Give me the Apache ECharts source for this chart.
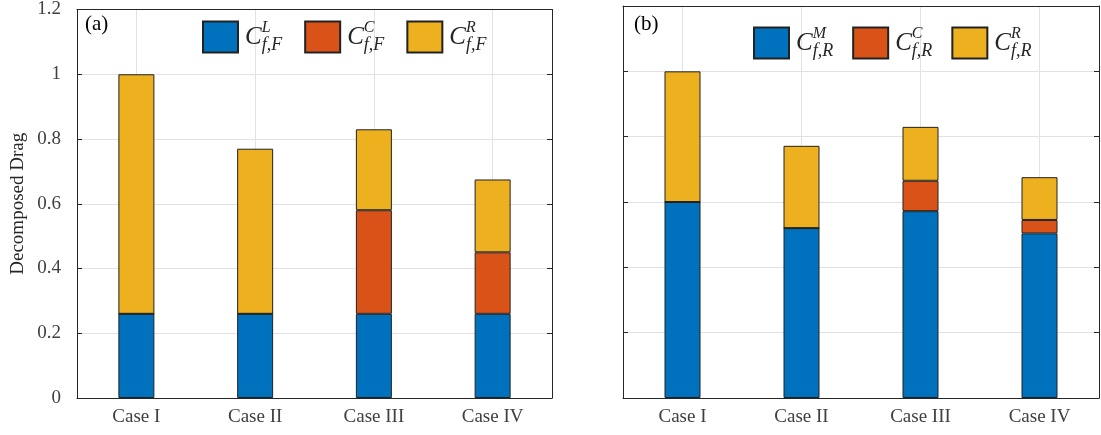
<!DOCTYPE html>
<html>
<head>
<meta charset="utf-8">
<script src="https://cdn.jsdelivr.net/npm/echarts@6/dist/echarts.min.js"></script>
<style>
  html, body { margin: 0; padding: 0; background: #fff; }
  #chart { width: 1101px; height: 435px; }
</style>
</head>
<body>
<div id="chart"></div>
<script>
// categories and tick values
var cases = ['Case I', 'Case II', 'Case III', 'Case IV'];
var yMin = 0, yMax = 1.2, yStep = 0.2;

// panel (a): segment heights, bottom to top
var frontL = [0.26, 0.26, 0.26, 0.26];
var frontC = [0, 0, 0.32, 0.19];
var frontR = [0.74, 0.51, 0.25, 0.225];

// panel (b): segment heights, bottom to top
var rearM = [0.60, 0.52, 0.572, 0.504];
var rearC = [0, 0, 0.093, 0.041];
var rearR = [0.40, 0.252, 0.165, 0.131];

var blue = '#0072BD', red = '#D95319', yellow = '#EDB120';
var font = '"Liberation Serif", "DejaVu Serif", serif';
var ink = '#262626';

var legendLabels = {
  aL: '{c|C}{sup|L}{sub|f,F}',
  aC: '{c|C}{sup|C}{sub|f,F}',
  aR: '{c|C}{sup|R}{sub|f,F}',
  bM: '{c|C}{sup|M}{sub|f,R}',
  bC: '{c|C}{sup|C}{sub|f,R}',
  bR: '{c|C}{sup|R}{sub|f,R}'
};

var legendRich = {
  c: { fontFamily: font, fontStyle: 'italic', fontSize: 25, color: ink, lineHeight: 34 },
  sup: { fontFamily: font, fontStyle: 'italic', fontSize: 16, color: ink, lineHeight: 16, verticalAlign: 'top', width: 0 },
  sub: { fontFamily: font, fontStyle: 'italic', fontSize: 18, color: ink, lineHeight: 17, verticalAlign: 'bottom' }
};

function xAxes(gridIndex) {
  return [{
    type: 'category', gridIndex: gridIndex, data: cases, position: 'bottom',
    axisLine: { lineStyle: { color: ink, width: 1 } },
    axisTick: { inside: true, alignWithLabel: true, length: 5, lineStyle: { color: ink } },
    axisLabel: { fontFamily: font, fontSize: 19, color: '#404040', margin: 10 },
    splitLine: { show: true, alignWithLabel: true, lineStyle: { color: '#e2e2e2', width: 1 } }
  }, {
    type: 'category', gridIndex: gridIndex, data: cases, position: 'top',
    axisLine: { onZero: false, lineStyle: { color: ink, width: 1 } },
    axisTick: { inside: true, alignWithLabel: true, length: 5, lineStyle: { color: ink } },
    axisLabel: { show: false },
    splitLine: { show: false }
  }];
}

function yAxes(gridIndex, withLabels) {
  return [{
    type: 'value', gridIndex: gridIndex, min: yMin, max: yMax, interval: yStep, position: 'left',
    name: withLabels ? 'Decomposed Drag' : '',
    nameLocation: 'middle', nameRotate: 90, nameGap: 49,
    nameTextStyle: { fontFamily: font, fontSize: 19, color: ink },
    axisLine: { show: true, onZero: false, lineStyle: { color: ink, width: 1 } },
    axisTick: { show: true, inside: true, length: 5, lineStyle: { color: ink } },
    axisLabel: { show: withLabels, fontFamily: font, fontSize: 19, color: '#404040', margin: 16 },
    splitLine: { show: true, lineStyle: { color: '#e2e2e2', width: 1 } }
  }, {
    type: 'value', gridIndex: gridIndex, min: yMin, max: yMax, interval: yStep, position: 'right',
    axisLine: { show: true, onZero: false, lineStyle: { color: ink, width: 1 } },
    axisTick: { show: true, inside: true, length: 5, lineStyle: { color: ink } },
    axisLabel: { show: false },
    splitLine: { show: false }
  }];
}

function barSeries(name, data, color, xi, yi, stack) {
  return {
    name: name, type: 'bar', stack: stack, data: data,
    xAxisIndex: xi, yAxisIndex: yi, barWidth: 36,
    itemStyle: { color: color, borderColor: '#222', borderWidth: 1 },
    emphasis: { disabled: true },
    animation: false
  };
}

function legend(names, left, top, gap) {
  return {
    data: names, left: left, top: top, orient: 'horizontal', padding: 0,
    itemWidth: 35, itemHeight: 31, itemGap: gap,
    selectedMode: false, icon: 'rect',
    formatter: function (n) { return legendLabels[n]; },
    textStyle: { rich: legendRich, padding: [0, 0, 0, 2] }
  };
}

var chart = echarts.init(document.getElementById('chart'), null, { renderer: 'canvas' });
chart.setOption({
  backgroundColor: '#fff',
  animation: false,
  title: [
    { text: '(a)', left: 85, top: 14, padding: 0, textStyle: { fontFamily: font, fontSize: 21, fontWeight: 'normal', color: '#000' } },
    { text: '(b)', left: 634, top: 14, padding: 0, textStyle: { fontFamily: font, fontSize: 21, fontWeight: 'normal', color: '#000' } }
  ],
  legend: [
    legend(['aL', 'aC', 'aR'], 202, 20, 22),
    legend(['bM', 'bC', 'bR'], 753, 26, 19)
  ],
  grid: [
    { left: 77, right: 549, top: 6, bottom: 37 },
    { left: 623, right: 2, top: 6, bottom: 37 }
  ],
  xAxis: xAxes(0).concat(xAxes(1)),
  yAxis: yAxes(0, true).concat(yAxes(1, false)),
  series: [
    barSeries('aL', frontL, blue, 0, 0, 'a'),
    barSeries('aC', frontC, red, 0, 0, 'a'),
    barSeries('aR', frontR, yellow, 0, 0, 'a'),
    barSeries('bM', rearM, blue, 2, 2, 'b'),
    barSeries('bC', rearC, red, 2, 2, 'b'),
    barSeries('bR', rearR, yellow, 2, 2, 'b')
  ]
});
</script>
</body>
</html>
